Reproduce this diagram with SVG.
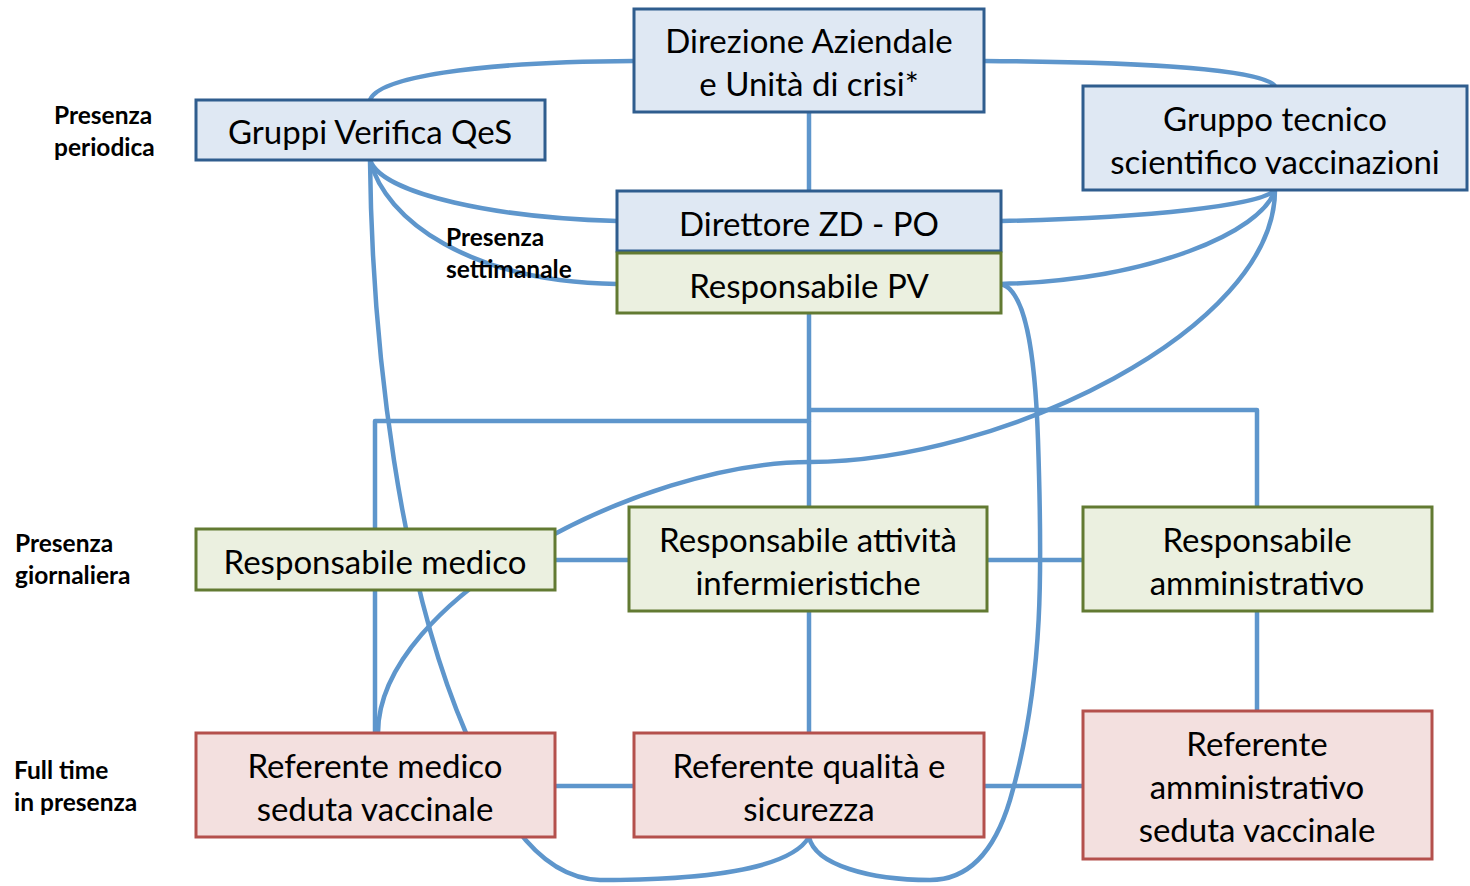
<svg xmlns="http://www.w3.org/2000/svg" width="1470" height="886" viewBox="0 0 1470 886">
<style>
.c{fill:none;stroke:#5e96cc;stroke-width:4.5;stroke-linejoin:round}
.b rect{fill:#dfe8f3;stroke:#2f5d8e;stroke-width:3}
.g rect{fill:#ebf0e0;stroke:#627a32;stroke-width:3}
.r rect{fill:#f3e0df;stroke:#b4504c;stroke-width:3}
.t{font-family:Lato,"Open Sans",sans-serif;font-size:33px;fill:#000;text-anchor:middle}
.l{font-family:Lato,"Open Sans",sans-serif;font-size:24.5px;font-weight:bold;fill:#000}
</style>
<rect width="1470" height="886" fill="#fff"/>
<g id="connectors">
<path class="c" d="M634,61 C470,62 378,78 370,100"/>
<path class="c" d="M984,61 C1150,62 1262,70 1275,86"/>
<path class="c" d="M809,112 V191"/>
<path class="c" d="M370,160 C382,195 500,218 617,221"/>
<path class="c" d="M370,160 C385,220 470,282 617,284"/>
<path class="c" d="M370,160 C372,350 400,580 466,733 C492,794 530,878 600,880 C700,880 790,870 809,837"/>
<path class="c" d="M1001,221 C1150,218 1262,205 1275,190"/>
<path class="c" d="M1001,284 C1150,280 1262,232 1275,190"/>
<path class="c" d="M1275,190 C1275,330 1000,462 810,462 C640,462 378,600 378,733"/>
<path class="c" d="M1001,284 C1025,290 1035,350 1038,440 C1042,560 1045,680 1010,800 C995,850 970,880 930,880 C870,880 815,865 809,837"/>
<path class="c" d="M809,313 V421 H375 V529"/>
<path class="c" d="M809,410 H1257 V507"/>
<path class="c" d="M809,421 V507"/>
<path class="c" d="M555,560 H629"/>
<path class="c" d="M987,560 H1083"/>
<path class="c" d="M555,786 H634"/>
<path class="c" d="M984,786 H1083"/>
<path class="c" d="M375,590 V733"/>
<path class="c" d="M809,611 V733"/>
<path class="c" d="M1257,611 V711"/>
</g>
<g id="direzione" class="b"><rect x="634" y="9" width="350" height="103"/><text class="t" x="809" y="53">Direzione Aziendale</text><text class="t" x="809" y="96">e Unità di crisi*</text></g>
<g id="gruppi-verifica" class="b"><rect x="196" y="100" width="349" height="60"/><text class="t" x="370" y="144">Gruppi Verifica QeS</text></g>
<g id="gruppo-tecnico" class="b"><rect x="1083" y="86" width="384" height="104"/><text class="t" x="1275" y="131">Gruppo tecnico</text><text class="t" x="1275" y="174">scientifico vaccinazioni</text></g>
<g id="direttore" class="b"><rect x="617" y="191" width="384" height="60"/><text class="t" x="809" y="236">Direttore ZD - PO</text></g>
<g id="resp-pv" class="g"><rect x="617" y="253" width="384" height="60"/><text class="t" x="809" y="298">Responsabile PV</text></g>
<g id="resp-medico" class="g"><rect x="196" y="529" width="359" height="61"/><text class="t" x="375" y="574">Responsabile medico</text></g>
<g id="resp-infermieristiche" class="g"><rect x="629" y="507" width="358" height="104"/><text class="t" x="808" y="552">Responsabile attività</text><text class="t" x="808" y="595">infermieristiche</text></g>
<g id="resp-amministrativo" class="g"><rect x="1083" y="507" width="349" height="104"/><text class="t" x="1257" y="552">Responsabile</text><text class="t" x="1257" y="595">amministrativo</text></g>
<g id="ref-medico" class="r"><rect x="196" y="733" width="359" height="104"/><text class="t" x="375" y="778">Referente medico</text><text class="t" x="375" y="821">seduta vaccinale</text></g>
<g id="ref-qualita" class="r"><rect x="634" y="733" width="350" height="104"/><text class="t" x="809" y="778">Referente qualità e</text><text class="t" x="809" y="821">sicurezza</text></g>
<g id="ref-amministrativo" class="r"><rect x="1083" y="711" width="349" height="148"/><text class="t" x="1257" y="756">Referente</text><text class="t" x="1257" y="799">amministrativo</text><text class="t" x="1257" y="842">seduta vaccinale</text></g>
<g id="labels">
<text class="l" x="54" y="124">Presenza</text><text class="l" x="54" y="156">periodica</text>
<text class="l" x="446" y="246">Presenza</text><text class="l" x="446" y="278">settimanale</text>
<text class="l" x="15" y="552">Presenza</text><text class="l" x="15" y="584">giornaliera</text>
<text class="l" x="14" y="779">Full time</text><text class="l" x="14" y="811">in presenza</text>
</g>
</svg>
